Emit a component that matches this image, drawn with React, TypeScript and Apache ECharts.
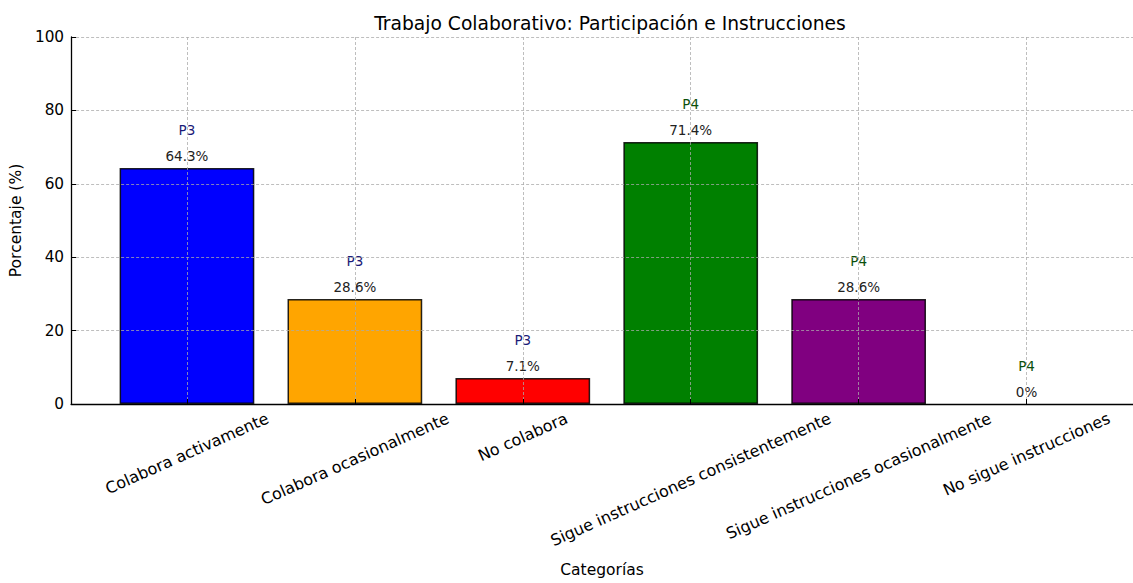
import React, { useEffect, useRef } from 'react';
import * as echarts from 'echarts';

const categories = [
  'Colabora activamente',
  'Colabora ocasionalmente',
  'No colabora',
  'Sigue instrucciones consistentemente',
  'Sigue instrucciones ocasionalmente',
  'No sigue instrucciones',
];
const values = [64.3, 28.6, 7.1, 71.4, 28.6, 0];
const valueLabels = ['64.3%', '28.6%', '7.1%', '71.4%', '28.6%', '0%'];
const groups = ['P3', 'P3', 'P3', 'P4', 'P4', 'P4'];
const groupColors: Record<string, string> = { P3: '#1b1b78', P4: '#0b4f0b' };
const barColors = ['#0000ff', '#ffa500', '#ff0000', '#008000', '#800080', '#808080'];
const yTicks = [0, 20, 40, 60, 80, 100];

const FONT = '"DejaVu Sans", "Liberation Sans", sans-serif';

export default function App() {
  const ref = useRef<HTMLDivElement>(null);

  useEffect(() => {
    if (!ref.current) return;
    const chart = echarts.init(ref.current, undefined, { renderer: 'svg' });

    const ROT = 24;
    const th = (ROT * Math.PI) / 180;
    const PAD = 5;
    const LABEL_FS = 16;
    const canvas = document.createElement('canvas');
    const ctx = canvas.getContext('2d')!;
    ctx.font = `${LABEL_FS}px "DejaVu Sans"`;
    const rich: Record<string, any> = {};
    categories.forEach((c, i) => {
      const w = ctx.measureText(c).width;
      const h = LABEL_FS * 1.15;
      const D = PAD + (w * Math.sin(th) + h * Math.cos(th)) / 2;
      rich['c' + i] = {
        fontSize: LABEL_FS,
        fontFamily: FONT,
        color: '#000',
        padding: [2 * D * Math.cos(th), 2 * D * Math.sin(th), 0, 0],
      };
    });

    const xMin = -0.69;
    const xMax = 5.634;
    const gridLeft = 68;
    const gridW = 1133 - gridLeft;
    const barWidth = (gridW / (xMax - xMin)) * 0.8;

    const idx = categories.map((_, i) => i);

    const option: any = {
      animation: false,
      backgroundColor: '#ffffff',
      title: {
        text: 'Trabajo Colaborativo: Participación e Instrucciones',
        left: 605,
        top: 9,
        textAlign: 'center',
        textStyle: { fontFamily: FONT, fontSize: 18.7, fontWeight: 'normal', color: '#000' },
      },
      grid: { left: gridLeft, right: 0, top: 37, bottom: 177, containLabel: false },
      xAxis: {
        type: 'value',
        min: xMin,
        max: xMax,
        z: 10,
        name: 'Categorías',
        nameLocation: 'middle',
        nameGap: 158,
        nameTextStyle: { fontFamily: FONT, fontSize: 15.5, color: '#000' },
        axisLine: { show: true, onZero: false, lineStyle: { color: '#000', width: 1.3 } },
        axisTick: { show: true, inside: true, length: 5, customValues: idx, lineStyle: { color: '#000' } },
        axisLabel: {
          customValues: idx,
          rotate: ROT,
          margin: 0,
          align: 'center',
          verticalAlign: 'middle',
          formatter: (v: number) => {
            const i = Math.round(v);
            return `{c${i}|${categories[i]}}`;
          },
          rich,
        },
        splitLine: {
          show: true,
          lineStyle: { color: 'rgba(170,170,170,0.85)', type: [3, 2], width: 0.9 },
        },
      },
      yAxis: {
        type: 'value',
        min: yTicks[0],
        max: yTicks[yTicks.length - 1],
        interval: yTicks[1] - yTicks[0],
        z: 10,
        name: 'Porcentaje (%)',
        nameLocation: 'middle',
        nameGap: 40,
        nameRotate: 90,
        nameTextStyle: { fontFamily: FONT, fontSize: 15.5, color: '#000' },
        axisLine: { show: true, onZero: false, lineStyle: { color: '#000', width: 1.3 } },
        axisTick: { show: true, inside: true, length: 5, lineStyle: { color: '#000' } },
        axisLabel: { fontFamily: FONT, fontSize: 15.3, color: '#000', margin: 7 },
        splitLine: {
          show: true,
          lineStyle: { color: 'rgba(170,170,170,0.85)', type: [3, 2], width: 0.9 },
        },
      },
      series: [
        {
          type: 'bar',
          barWidth,
          z: 2,
          data: values.map((v, i) => ({
            value: [i, v],
            itemStyle: {
              color: barColors[i],
              borderColor: 'rgba(0,0,0,0.85)',
              borderWidth: v > 0 ? 1.5 : 0,
            },
            label: {
              show: true,
              position: 'top',
              distance: 2,
              formatter: `{p|${groups[i]}}\n{v|${valueLabels[i]}}`,
              rich: {
                p: { fontFamily: FONT, fontSize: 13.5, color: groupColors[groups[i]], lineHeight: 32 },
                v: { fontFamily: FONT, fontSize: 13.5, color: '#222', lineHeight: 20 },
              },
            },
          })),
        },
      ],
    };

    chart.setOption(option);
    return () => chart.dispose();
  }, []);

  return (
    <div
      ref={ref}
      style={{ position: 'fixed', left: 0, top: 0, width: 1133, height: 583, background: '#fff' }}
    />
  );
}
